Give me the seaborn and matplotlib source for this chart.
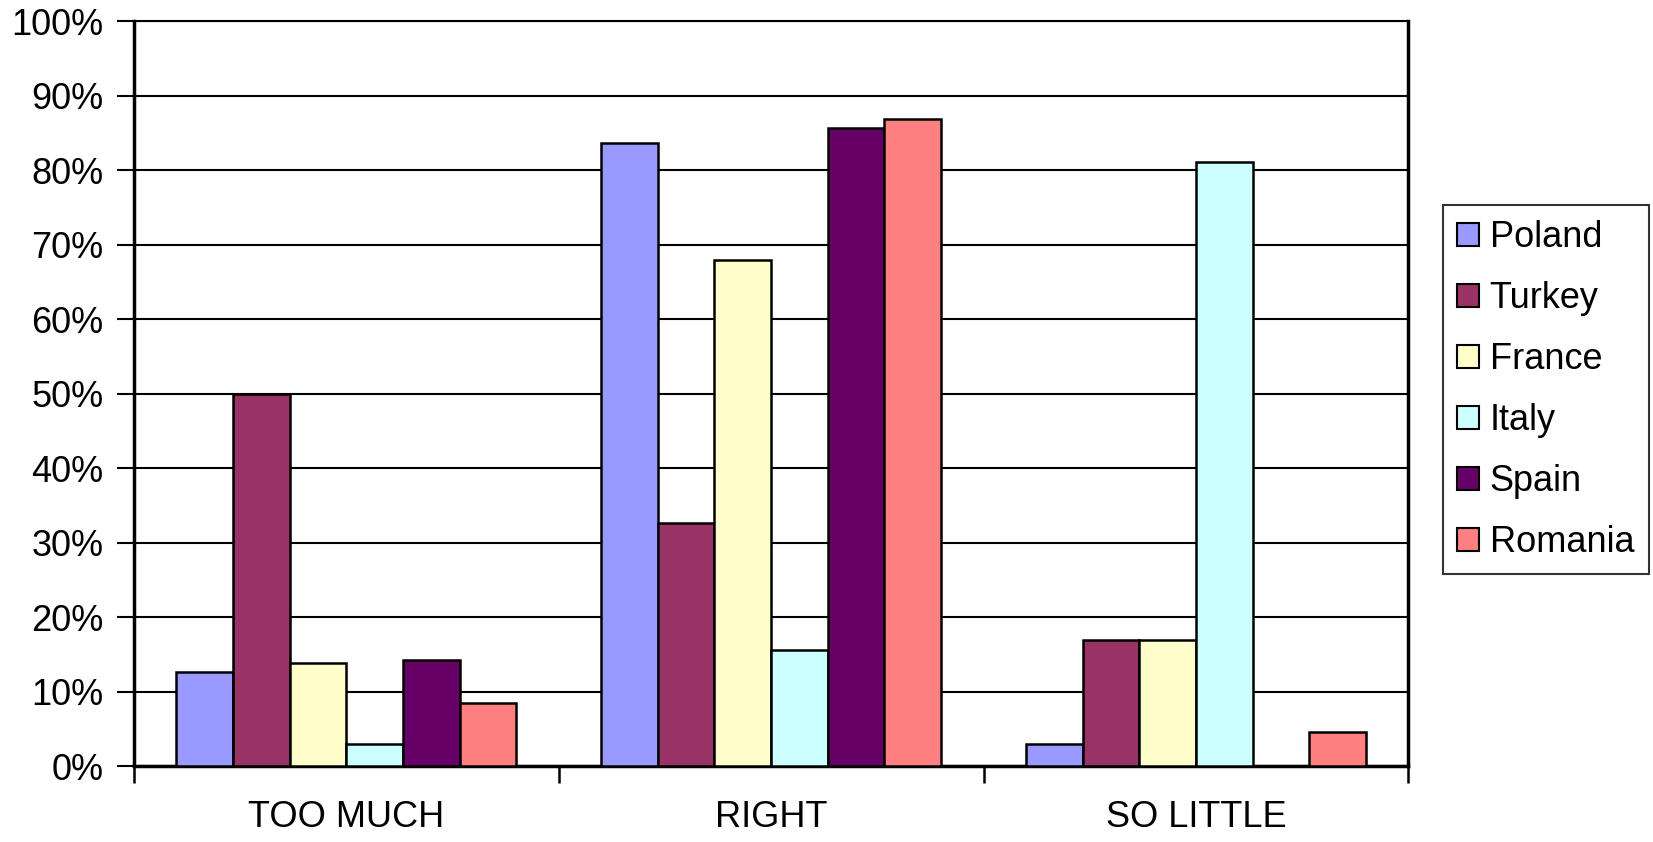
import numpy as np
import pandas as pd
import matplotlib
matplotlib.use('Agg')
import matplotlib.pyplot as plt
import seaborn as sns
from matplotlib.ticker import FixedLocator, PercentFormatter

# ── Data ──────────────────────────────────────────────────────────────────
categories = ['TOO MUCH', 'RIGHT', 'SO LITTLE']
countries  = ['Poland', 'Turkey', 'France', 'Italy', 'Spain', 'Romania']
poland  = [12.7, 83.7, 3.0]
turkey  = [50.0, 32.7, 16.9]
france  = [13.9, 67.9, 16.9]
italy   = [3.0, 15.6, 81.1]
spain   = [14.3, 85.6, 0.0]
romania = [8.5, 86.8, 4.6]
palette = ['#9999FF', '#993366', '#FFFFCC', '#CCFFFF', '#660066', '#FF8080']

series = [poland, turkey, france, italy, spain, romania]
rows = [(cat, c, vals[i]) for c, vals in zip(countries, series)
        for i, cat in enumerate(categories)]
df = pd.DataFrame(rows, columns=['category', 'country', 'value'])

sns.set_theme(style='white')
plt.rcParams['font.family'] = ['Liberation Sans', 'DejaVu Sans']
plt.rcParams['text.color'] = 'black'
plt.rcParams['xtick.color'] = 'black'
plt.rcParams['ytick.color'] = 'black'
FS = 26

fig = plt.figure(figsize=(16.53, 8.42), dpi=100)
ax = fig.add_axes([0.081, 0.090, 0.771, 0.885])

sns.barplot(data=df, x='category', y='value', hue='country',
            order=categories, hue_order=countries, palette=palette,
            width=0.8, gap=0, edgecolor='black', linewidth=1.8,
            saturation=1, ax=ax, zorder=3)

ax.set_ylim(0, 100)
ax.set_xlim(-0.5, 2.5)
ax.yaxis.set_major_locator(FixedLocator(np.arange(0, 101, 10)))
ax.yaxis.set_major_formatter(PercentFormatter(decimals=0))
ax.grid(True, axis='y', color='black', linewidth=1.5, zorder=0)
ax.set_axisbelow(True)

# category ticks sit between groups, labels centred under groups
ax.set_xticks([-0.5, 0.5, 1.5, 2.5])
ax.set_xticklabels([])
ax.set_xticks([0, 1, 2], minor=True)
ax.set_xticklabels(categories, minor=True, fontsize=FS)
ax.tick_params(axis='x', which='minor', length=0, pad=24, labelcolor='black')
ax.tick_params(axis='x', which='major', length=12, width=1.8,
               direction='out', color='black', bottom=True)
ax.tick_params(axis='y', length=12, width=1.5, direction='out',
               color='black', left=True, labelsize=FS, pad=10,
               labelcolor='black')
ax.set_xlabel('')
ax.set_ylabel('')

for side in ['left', 'bottom', 'top', 'right']:
    ax.spines[side].set_visible(True)
    ax.spines[side].set_color('black')
ax.spines['left'].set_linewidth(2.5)
ax.spines['bottom'].set_linewidth(2.5)
ax.spines['top'].set_linewidth(1.5)
ax.spines['right'].set_linewidth(2.5)

leg = ax.legend(loc='center left', bbox_to_anchor=(1.027, 0.505),
                fontsize=FS, frameon=True, fancybox=False,
                handlelength=0.6, handleheight=0.6, handletextpad=0.3,
                labelspacing=0.72, borderpad=0.4, borderaxespad=0)
leg.get_frame().set_edgecolor('black')
leg.get_frame().set_linewidth(1.5)
for h in leg.legend_handles:
    h.set_edgecolor('black')
    h.set_linewidth(1.5)
for t in leg.get_texts():
    t.set_color('black')

plt.savefig('out.png', dpi=100)
plt.close()
